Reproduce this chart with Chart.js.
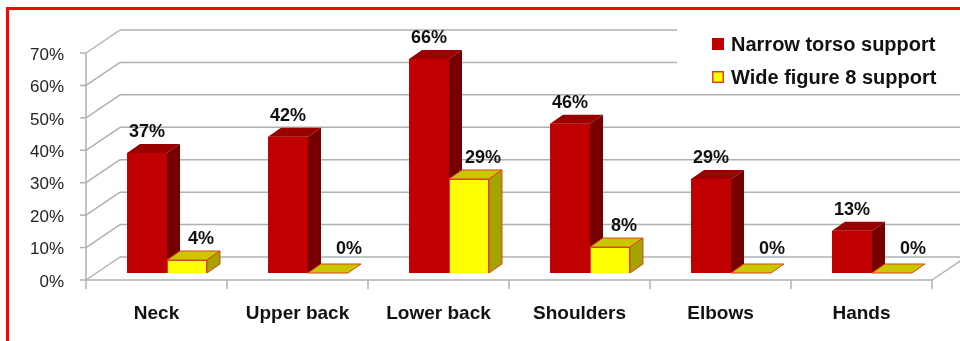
<!DOCTYPE html>
<html>
<head>
<meta charset="utf-8">
<script src="https://cdn.jsdelivr.net/npm/chart.js@4.4.0/dist/chart.umd.min.js"></script>
<style>
  html, body { margin: 0; padding: 0; background: #fff; }
  #wrap { position: relative; width: 960px; height: 341px; overflow: hidden; }
  #frame { position: absolute; left: 6px; top: 7px; width: 1000px; height: 400px; border: 3px solid #ff0000; box-sizing: border-box; pointer-events: none; }
</style>
</head>
<body>
<div id="wrap">
  <canvas id="chart" width="960" height="341"></canvas>
  <div id="frame"></div>
</div>
<script>
const categories = ['Neck', 'Upper back', 'Lower back', 'Shoulders', 'Elbows', 'Hands'];
const narrowTorso = [37, 42, 66, 46, 29, 13];
const wideFigure8 = [4, 0, 29, 8, 0, 0];
const yTicks = [0, 10, 20, 30, 40, 50, 60, 70];
const seriesNames = ['Narrow torso support', 'Wide figure 8 support'];

// fake 3d geometry (Excel style)
const WALL = { dx: 34, dy: -23 };
const SHIFT = { dx: 10.5, dy: -7 };
const DEPTH = { dx: 13, dy: -9 };
const FONT = '"Liberation Sans", Arial, sans-serif';
const faces = [
    { front: '#C00000', top: '#9A0000', side: '#760000', edge: null, labelDx: 0 },
    { front: '#FFFF00', top: '#C8C800', side: '#A4A400', edge: '#E2401C', labelDx: 14 }
];

function poly(ctx, pts, fill, edge) {
    ctx.beginPath();
    ctx.moveTo(pts[0][0], pts[0][1]);
    for (let i = 1; i < pts.length; i++) ctx.lineTo(pts[i][0], pts[i][1]);
    ctx.closePath();
    ctx.fillStyle = fill;
    ctx.fill();
    if (edge) {
        ctx.strokeStyle = edge;
        ctx.lineWidth = 1;
        ctx.stroke();
    }
}

function line(ctx, x1, y1, x2, y2) {
    ctx.beginPath();
    ctx.moveTo(x1, y1);
    ctx.lineTo(x2, y2);
    ctx.stroke();
}

function drawFaces(ctx, meta, f) {
    meta.data.forEach(el => {
        const L = el.x - el.width / 2, R = el.x + el.width / 2;
        const T = el.y, B = el.base;
        poly(ctx, [[L, T], [L + DEPTH.dx, T + DEPTH.dy], [R + DEPTH.dx, T + DEPTH.dy], [R, T]], f.top, f.edge);
        if (B - T > 0.5) {
            poly(ctx, [[R, T], [R + DEPTH.dx, T + DEPTH.dy], [R + DEPTH.dx, B + DEPTH.dy], [R, B]], f.side, f.edge);
        }
    });
}

const threeD = {
    id: 'threeD',
    beforeDatasetsDraw(chart) {
        const { ctx, chartArea: a, scales: { y } } = chart;
        ctx.save();
        ctx.strokeStyle = '#B0B0B0';
        ctx.lineWidth = 1.5;
        y.ticks.forEach(t => {
            const py = y.getPixelForValue(t.value);
            line(ctx, a.left, py, a.left + WALL.dx, py + WALL.dy);
            line(ctx, a.left + WALL.dx, py + WALL.dy, a.right + WALL.dx, py + WALL.dy);
            line(ctx, a.left - 6, py, a.left, py);
        });
        line(ctx, a.left, a.top, a.left, a.bottom);
        line(ctx, a.left, a.bottom, a.right, a.bottom);
        line(ctx, a.right, a.bottom, a.right + WALL.dx, a.bottom + WALL.dy);
        const n = categories.length;
        for (let i = 0; i <= n; i++) {
            const px = a.left + (a.right - a.left) * i / n;
            line(ctx, px, a.bottom, px, a.bottom + 9);
        }
        ctx.restore();
        // bars sit in the middle of the floor depth
        ctx.save();
        ctx.translate(SHIFT.dx, SHIFT.dy);
    },
    afterDatasetsDraw(chart) {
        const ctx = chart.ctx;
        // red sides first, then yellow fronts again on top of them
        drawFaces(ctx, chart.getDatasetMeta(0), faces[0]);
        const meta1 = chart.getDatasetMeta(1);
        meta1.data.forEach(el => el.draw(ctx));
        drawFaces(ctx, meta1, faces[1]);

        ctx.font = 'bold 18px ' + FONT;
        ctx.fillStyle = '#111';
        ctx.textAlign = 'center';
        ctx.textBaseline = 'middle';
        chart.data.datasets.forEach((ds, i) => {
            const meta = chart.getDatasetMeta(i);
            meta.data.forEach((el, j) => {
                const v = ds.data[j];
                const dx = faces[i].labelDx + (v === 0 ? 7 : 0);
                const dy = v === 0 ? -24 : -21;
                ctx.fillText(v + '%', el.x + dx, el.y + dy);
            });
        });
        ctx.restore();

        // legend
        ctx.save();
        ctx.fillStyle = '#fff';
        ctx.fillRect(677, 24, 283, 64);
        ctx.font = 'bold 20px ' + FONT;
        ctx.textAlign = 'left';
        ctx.textBaseline = 'middle';
        const rows = [44, 77];
        seriesNames.forEach((name, i) => {
            ctx.fillStyle = faces[i].front;
            ctx.fillRect(712, rows[i] - 6, 12, 12);
            if (faces[i].edge) {
                ctx.strokeStyle = faces[i].edge;
                ctx.lineWidth = 1.5;
                ctx.strokeRect(712.75, rows[i] - 5.25, 10.5, 10.5);
            }
            ctx.fillStyle = '#111';
            ctx.fillText(name, 731, rows[i] + 1);
        });
        ctx.restore();
    }
};

new Chart(document.getElementById('chart'), {
    type: 'bar',
    data: {
        labels: categories,
        datasets: [
            {
                label: seriesNames[0],
                data: narrowTorso,
                backgroundColor: faces[0].front,
                borderWidth: 0,
                clip: false
            },
            {
                label: seriesNames[1],
                data: wideFigure8,
                backgroundColor: faces[1].front,
                borderColor: faces[1].edge,
                borderWidth: 1,
                clip: false
            }
        ]
    },
    options: {
        responsive: false,
        animation: false,
        layout: { padding: { top: 53, right: 28, left: 0, bottom: 0 } },
        plugins: {
            legend: { display: false },
            tooltip: { enabled: false }
        },
        datasets: {
            bar: { categoryPercentage: 0.567, barPercentage: 1 }
        },
        scales: {
            x: {
                grid: { display: false, drawTicks: false },
                border: { display: false },
                ticks: {
                    padding: 22,
                    color: '#111',
                    font: { family: FONT, size: 19, weight: 'bold' }
                },
                afterFit(scale) { scale.height = 61; }
            },
            y: {
                min: 0,
                max: 70,
                grid: { display: false, drawTicks: false },
                border: { display: false },
                afterBuildTicks(scale) { scale.ticks = yTicks.map(v => ({ value: v })); },
                ticks: {
                    padding: 22,
                    labelOffset: 2,
                    color: '#222',
                    font: { family: FONT, size: 17 },
                    callback: v => v + '%'
                },
                afterFit(scale) { scale.width = 86; }
            }
        }
    },
    plugins: [threeD]
});
</script>
</body>
</html>
